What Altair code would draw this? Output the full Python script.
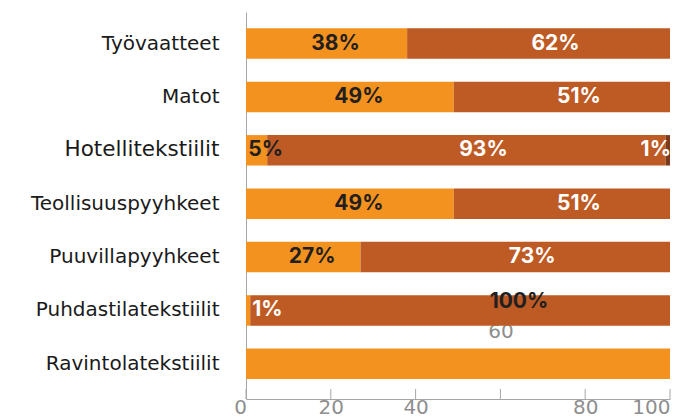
import altair as alt
import pandas as pd

categories = ["Työvaatteet", "Matot\u00a0", "Hotellitekstiilit", "Teollisuuspyyhkeet\u00a0",
              "Puuvillapyyhkeet", "Puhdastilatekstiilit\u00a0", "Ravintolatekstiilit\u00a0"]
share_orange = [38, 49, 5, 49, 27, 1, 100]
share_dark = [62, 51, 94, 51, 73, 99, 0]
share_brown = [0, 0, 1, 0, 0, 0, 0]
label_orange = ["38%", "49%", "5%", "49%", "27%", "1%", "100%"]
label_dark = ["62%", "51%", "93%", "51%", "73%", "", ""]
label_brown = ["", "", "1%", "", "", "", ""]
tick_values = [0, 20, 40, 60, 80, 100]

series_names = ["A", "B", "C"]
series_colors = ["#F3921E", "#BE5A24", "#7A3A1C"]

rows = []
for i, c in enumerate(categories):
    for k, (vals, labs) in enumerate([(share_orange, label_orange),
                                       (share_dark, label_dark),
                                       (share_brown, label_brown)]):
        rows.append({"category": c, "series": series_names[k], "ord": k,
                     "value": vals[i], "label": labs[i]})
df = pd.DataFrame(rows)
ticks_df = pd.DataFrame({"t": tick_values})

AXFONT = "DejaVu Sans"
FONT = "Inter"
GRAY = "#A6A6A6"
DARK = "#231F20"

xscale = alt.Scale(domain=[0, 100], nice=False)
yscale = alt.Scale(domain=categories, paddingInner=0.43, paddingOuter=0.34, align=0.45)

xaxis = alt.Axis(values=tick_values, ticks=False, grid=False, title=None,
                 domainColor=GRAY, labelColor="#8E8E8E", labelFontSize=20,
                 labelFont=AXFONT, labelOverlap=False, labelFlush=False,
                 labelAlign={"condition": {"test": "datum.value == 100", "value": "right"},
                             "value": "center"},
                 labelOffset={"condition": {"test": "datum.value == 0", "value": -6},
                              "value": 0},
                 labelPadding={"condition": {"test": "datum.value == 60", "value": -78},
                               "value": -2})
yaxis = alt.Axis(title=None, ticks=False, domainColor=GRAY,
                 labelFontSize={"condition": {"test": "datum.value == 'Hotellitekstiilit'",
                                              "value": 21.5}, "value": 20},
                 labelFont=AXFONT, labelColor="#1A1A1A", labelPadding=27,
                 labelLimit=400)

base = alt.Chart(df)

bars = base.mark_bar().encode(
    x=alt.X("value:Q", stack="zero", scale=xscale, axis=xaxis),
    y=alt.Y("category:N", scale=yscale, axis=yaxis),
    color=alt.Color("series:N", scale=alt.Scale(domain=series_names, range=series_colors),
                    legend=None),
    order=alt.Order("ord:Q"),
)

stacked = base.transform_stack(
    stack="value", groupby=["category"], as_=["x0", "x1"],
    sort=[alt.SortField("ord", order="ascending")]
).transform_calculate(mid="(datum.x0 + datum.x1) / 2")

def txt(**kw):
    return stacked.mark_text(fontSize=21, fontWeight="bold", font=FONT, baseline="middle", **kw)

def enc(layer, xfield):
    return layer.encode(
        x=alt.X(xfield, scale=xscale, axis=xaxis),
        y=alt.Y("category:N", scale=yscale, axis=yaxis),
        text="label:N")

lab_a = enc(txt(color=DARK, dx=9).transform_filter(
    "datum.series == 'A' && datum.value >= 3 && datum.value < 100"), "mid:Q")
lab_b = enc(txt(color="white", dx=17).transform_filter(
    "datum.series == 'B' && datum.label != ''"), "mid:Q")
lab_small_a = enc(txt(color="white", align="left", dx=2).transform_filter(
    "datum.series == 'A' && datum.value < 3"), "x1:Q")
lab_small_c = enc(txt(color="white", align="right", dx=1).transform_filter(
    "datum.series == 'C' && datum.label != ''"), "x1:Q")
lab_full = enc(txt(color=DARK, dx=61, dy=-62).transform_filter(
    "datum.series == 'A' && datum.value >= 100"), "mid:Q")

tick_marks = alt.Chart(ticks_df).mark_rule(color=GRAY, strokeWidth=1).encode(
    x=alt.X("t:Q", scale=xscale, axis=xaxis),
    y=alt.value(377), y2=alt.value(387))

chart = alt.layer(bars, tick_marks, lab_a, lab_b, lab_small_a, lab_small_c, lab_full).properties(
    width=424, height=387,
    autosize=alt.AutoSizeParams(type="none"),
    padding={"left": 238, "top": 4, "right": 2, "bottom": 19},
).configure_view(stroke=None)

chart.save("out.html", embed_options={"renderer": "svg", "actions": False})
